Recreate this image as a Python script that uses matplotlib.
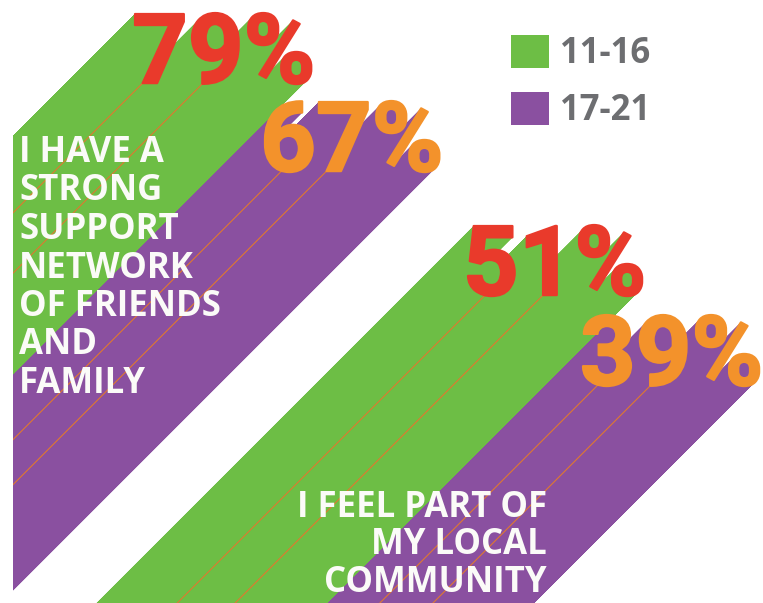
import numpy as np
import matplotlib
matplotlib.use("Agg")
import matplotlib.pyplot as plt
import matplotlib.patheffects as pe
from matplotlib.path import Path
from matplotlib.patches import PathPatch, Rectangle, Patch
from matplotlib.textpath import TextPath
from matplotlib.font_manager import FontProperties

# ---------------- data ----------------
statements = ["I HAVE A\nSTRONG\nSUPPORT\nNETWORK\nOF FRIENDS\nAND\nFAMILY",
              "I FEEL PART OF\nMY LOCAL\nCOMMUNITY"]
age_groups = ["11-16", "17-21"]
pct_11_16 = [79, 51]
pct_17_21 = [67, 39]

# ---------------- style / layout ----------------
W, H, DPI = 763, 603, 100
GREEN, PURPLE = "#6DBE45", "#8A50A0"
RED, ORANGE = "#E93A2B", "#F3922B"
LINE, GREY, WHITE = "#E0782F", "#6D6E71", "#FBFBF8"
NUM_PT = 70
LAB_PT = 25
num_fp = FontProperties(family="Roboto", weight="bold", size=NUM_PT)
lab_fp = FontProperties(family="Open Sans", weight="bold", size=LAB_PT)
SWEEP = 900
CLIP_X = 13

# top-left pixel anchor of each number (one per statement) per age group
num_anchor = {"11-16": [(135, 13), (468, 225)],
              "17-21": [(265, 101), (583, 315)]}
shadow_col = {"11-16": GREEN, "17-21": PURPLE}
text_col = {"11-16": RED, "17-21": ORANGE}
shadow_z = {"11-16": 2, "17-21": 1}
stmt_pos = [dict(x=19, base=162, ha="left", pitch=38.5),
            dict(x=547, base=517, ha="right", pitch=37.5)]

fig = plt.figure(figsize=(W / DPI, H / DPI), dpi=DPI)
ax = fig.add_axes([0, 0, 1, 1])
ax.set_xlim(0, W)
ax.set_ylim(H, 0)
ax.axis("off")
clip = Rectangle((CLIP_X, -10), W, H + 20, transform=ax.transData)

num_px = NUM_PT * DPI / 72.0


def glyph_polys(s, ox, oy):
    tp = TextPath((0, 0), s, size=num_px, prop=num_fp)
    out = []
    for p in tp.to_polygons(closed_only=True):
        q = np.column_stack([ox + p[:, 0], oy - p[:, 1]])
        if not np.allclose(q[0], q[-1]):
            q = np.vstack([q, q[:1]])
        out.append(q)
    return out


def origin_for(s, left, top):
    allv = np.vstack(glyph_polys(s, 0, 0))
    return left - allv[:, 0].min(), top - allv[:, 1].min()


def shadow_path(polys):
    d = np.array([-SWEEP, SWEEP], float)
    quads = []
    for p in polys:
        P, Q = p[:-1], p[1:]
        e = Q - P
        cr = e[:, 0] * d[1] - e[:, 1] * d[0]
        keep = np.abs(cr) > 1e-9
        P, Q, cr = P[keep], Q[keep], cr[keep]
        a = np.stack([P, Q, Q + d, P + d, P], axis=1)
        b = np.stack([P, P + d, Q + d, Q, P], axis=1)
        quads.append(np.where((cr > 0)[:, None, None], a, b))
    quads = np.concatenate(quads)
    verts = quads.reshape(-1, 2)
    codes = np.tile([Path.MOVETO, Path.LINETO, Path.LINETO, Path.LINETO,
                     Path.CLOSEPOLY], len(quads))
    return Path(verts, codes)


for grp, vals in zip(age_groups, [pct_11_16, pct_17_21]):
    for k, v in enumerate(vals):
        s = f"{v}%"
        left, top = num_anchor[grp][k]
        ox, oy = origin_for(s, left, top)
        polys = glyph_polys(s, ox, oy)
        patch = PathPatch(shadow_path(polys), facecolor=shadow_col[grp],
                          edgecolor="none", lw=0, zorder=shadow_z[grp])
        ax.add_patch(patch)
        patch.set_clip_path(clip)
        # thin shadow edges from the bottom-left of each digit
        digit_polys = glyph_polys(s[:-1], ox, oy)
        base_y = max(p[:, 1].max() for p in digit_polys)
        for p in digit_polys:
            if p[:, 1].max() < base_y - 4:
                continue
            sel = p[p[:, 1] >= p[:, 1].max() - 1.5]
            st = sel[np.argmin(sel[:, 0])]
            ln, = ax.plot([st[0], st[0] - SWEEP], [st[1], st[1] + SWEEP],
                          color=LINE, lw=0.8, zorder=shadow_z[grp] + 0.5,
                          solid_capstyle="butt")
            ln.set_clip_path(clip)
        ax.text(ox, oy, s, fontproperties=num_fp, color=text_col[grp],
                ha="left", va="baseline", zorder=5,
                path_effects=[pe.withStroke(linewidth=1.6,
                                            foreground=text_col[grp])])

# statements (multi-line, spacing computed from renderer metrics)
renderer = fig.canvas.get_renderer()
_, lp_h, lp_d = renderer.get_text_width_height_descent("lp", lab_fp, ismath=False)
asc_px = lp_h - lp_d
for s, pos in zip(statements, stmt_pos):
    lsp = (pos["pitch"] - lp_d) / asc_px
    ax.text(pos["x"], pos["base"] - asc_px, s, fontproperties=lab_fp,
            color=WHITE, ha=pos["ha"], va="top", multialignment=pos["ha"],
            linespacing=lsp, zorder=6)

# legend
handles = [Patch(facecolor=shadow_col[g], edgecolor="none") for g in age_groups]
leg = ax.legend(handles, age_groups, prop=lab_fp, labelcolor=GREY,
                frameon=False, loc="upper left",
                bbox_to_anchor=(511 / W, 1 - 35 / H),
                borderpad=0, borderaxespad=0, handlelength=1.1,
                handleheight=1.1, handletextpad=0.3, labelspacing=0.56)

fig.savefig("out.png", dpi=DPI)
